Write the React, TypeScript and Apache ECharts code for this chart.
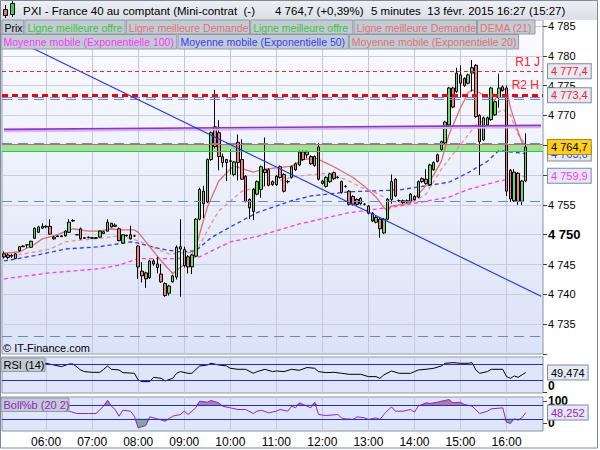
import React, { useEffect, useRef } from 'react';
import * as echarts from 'echarts';

const FONT = '"Liberation Sans", Arial, sans-serif';

// 5-minute slots from 05:05 to 16:45 (141 slots, last candle 16:25)
const categories: string[] = [];
for (let m = 5 * 60 + 5; m <= 16 * 60 + 45; m += 5) {
  categories.push(`${String(Math.floor(m / 60)).padStart(2, '0')}:${String(m % 60).padStart(2, '0')}`);
}
const hourLabels = ['06:00', '07:00', '08:00', '09:00', '10:00', '11:00', '12:00', '13:00', '14:00', '15:00', '16:00'];

const opens = [4746.8,4746.6,4746.4,4746.0,4747.3,4748.0,4748.3,4747.9,4749.4,4750.4,
4751.1,4751.3,4751.4,4749.6,4749.7,4749.8,4749.8,4750.4,4752.4,4750.0,
4751.0,4749.5,4749.6,4749.4,4749.5,4749.6,4750.2,4750.6,4751.3,4751.6,
4751.0,4748.6,4749.9,4750.0,4749.8,4748.1,4743.9,4743.6,4742.8,4745.6,
4745.1,4743.4,4741.8,4740.2,4742.1,4742.9,4748.0,4744.8,4746.3,4744.6,
4746.4,4752.6,4757.3,4755.5,4762.6,4768.1,4767.1,4763.1,4762.6,4762.3,
4760.1,4765.5,4762.6,4759.8,4755.9,4753.9,4756.8,4757.6,4760.9,4760.9,
4758.9,4758.4,4761.4,4760.1,4758.9,4759.6,4761.9,4761.7,4763.9,4763.4,
4763.1,4761.6,4764.7,4759.0,4758.1,4758.9,4760.4,4759.6,4758.9,4758.1,
4757.3,4756.4,4755.9,4755.2,4755.1,4754.8,4753.6,4752.1,4752.6,4750.3,
4752.6,4755.9,4759.3,4755.7,4755.7,4755.7,4755.6,4756.4,4756.3,4759.4,
4759.3,4758.4,4760.9,4763.4,4764.3,4765.4,4768.4,4774.6,4774.0,4776.8,
4776.2,4775.4,4777.1,4778.4,4770.0,4765.9,4768.4,4769.3,4770.1,4773.0,
4774.8,4774.6,4760.8,4755.7,4760.3,4755.6,4759.0];
const closes = [4746.3,4746.2,4746.5,4746.8,4748.0,4748.1,4748.3,4748.9,4751.1,4751.3,
4751.4,4751.4,4750.1,4749.3,4749.8,4749.7,4750.6,4752.1,4752.3,4750.0,
4749.3,4749.4,4749.5,4749.5,4749.4,4750.6,4750.5,4752.1,4751.9,4751.4,
4749.0,4750.0,4749.8,4749.3,4749.8,4744.6,4743.1,4742.6,4745.6,4745.1,
4744.5,4742.1,4739.8,4741.4,4743.1,4747.9,4747.6,4747.5,4744.6,4746.6,
4752.6,4757.6,4755.2,4762.6,4767.1,4764.8,4763.1,4762.1,4762.1,4762.4,
4762.2,4762.1,4759.3,4755.6,4754.5,4757.6,4758.9,4761.4,4760.4,4758.3,
4758.4,4759.8,4759.6,4757.3,4758.9,4761.4,4760.9,4763.9,4762.6,4763.9,
4761.9,4763.1,4759.3,4758.6,4759.6,4760.2,4759.4,4759.6,4757.1,4758.1,
4755.1,4755.1,4755.1,4756.1,4755.1,4753.6,4752.3,4752.9,4751.0,4752.6,
4755.9,4758.9,4756.5,4755.7,4755.4,4755.5,4756.8,4755.9,4758.9,4758.9,
4758.6,4761.7,4762.1,4762.3,4765.6,4768.9,4774.6,4771.4,4777.1,4775.4,
4775.0,4776.8,4778.0,4769.8,4765.6,4769.6,4769.6,4774.6,4772.3,4774.6,
4774.2,4757.3,4756.0,4760.5,4755.6,4759.0,4764.7];
const lows = [4746.0,4745.9,4746.1,4745.9,4747.2,4747.9,4747.8,4747.8,4749.3,4750.3,
4751.0,4751.1,4750.0,4749.2,4749.6,4749.6,4749.7,4750.3,4752.2,4749.9,
4749.2,4749.3,4749.4,4749.3,4749.3,4749.5,4750.1,4750.5,4751.2,4751.3,
4748.9,4748.5,4749.7,4749.2,4749.6,4742.6,4742.0,4741.1,4742.6,4744.8,
4743.5,4741.9,4739.6,4739.8,4742.0,4742.5,4739.6,4744.5,4743.5,4743.4,
4746.2,4752.4,4752.8,4755.3,4762.4,4764.5,4760.8,4761.3,4759.0,4760.1,
4759.8,4759.1,4759.2,4755.4,4752.6,4752.5,4756.6,4756.2,4758.1,4758.1,
4758.2,4758.2,4759.4,4757.1,4758.6,4759.4,4760.7,4761.5,4762.4,4762.8,
4761.7,4761.4,4759.1,4758.4,4757.9,4758.7,4759.2,4759.4,4756.9,4757.9,
4754.9,4754.9,4754.9,4755.0,4754.9,4753.4,4752.1,4751.9,4749.5,4750.1,
4752.4,4755.2,4756.3,4755.5,4755.2,4755.3,4755.4,4755.7,4756.1,4758.7,
4758.4,4758.2,4760.7,4762.1,4764.1,4765.2,4768.2,4771.2,4773.8,4773.0,
4774.8,4775.2,4774.0,4769.6,4760.0,4765.7,4768.2,4769.1,4769.9,4771.3,
4774.0,4756.5,4755.5,4755.5,4755.0,4755.0,4758.8];
const highs = [4747.2,4746.9,4746.8,4746.9,4748.1,4748.2,4748.3,4749.0,4751.2,4751.5,
4751.9,4751.6,4752.6,4749.8,4749.9,4749.9,4750.8,4752.6,4752.6,4750.1,
4751.2,4749.6,4749.7,4749.6,4749.6,4750.7,4750.6,4752.6,4752.0,4751.9,
4751.2,4750.1,4750.0,4751.5,4750.0,4748.2,4745.4,4743.8,4745.8,4745.9,
4746.3,4745.1,4742.0,4741.6,4743.3,4748.2,4752.6,4748.0,4746.6,4746.8,
4752.8,4757.9,4758.2,4762.8,4767.3,4774.3,4769.2,4763.6,4762.7,4764.3,
4762.4,4766.8,4766.0,4760.0,4756.1,4757.8,4759.1,4761.6,4766.3,4761.1,
4759.1,4760.0,4761.6,4760.3,4759.2,4761.6,4762.1,4764.1,4764.1,4764.1,
4763.3,4763.3,4765.4,4759.2,4759.8,4760.4,4760.6,4759.8,4759.1,4758.3,
4757.5,4756.6,4756.1,4756.3,4755.3,4755.0,4753.8,4753.1,4752.8,4752.8,
4756.1,4760.1,4759.5,4755.9,4755.9,4755.9,4757.0,4756.6,4759.1,4759.6,
4761.0,4761.9,4762.3,4763.6,4765.8,4769.1,4774.8,4774.8,4778.0,4778.4,
4776.4,4777.0,4779.3,4778.6,4770.2,4769.8,4769.8,4774.8,4772.5,4777.0,
4775.0,4775.0,4761.0,4761.0,4760.5,4759.2,4767.0];

// indicator lines: [slot index, value]
const demaPts = [[0,4746.9],[4,4747.1],[8,4748.4],[10,4749.3],[13,4749.8],[16,4750.5],[18,4751.0],[22,4750.6],[25,4750.6],[28,4751.0],[30,4750.8],[34,4750.8],[35,4750.4],[36,4749.6],[41,4745.6],[44,4743.5],[48,4745.5],[50,4747.9],[53,4754.6],[56,4759.0],[59,4761.0],[60,4761.5],[65,4760.5],[68,4761.0],[75,4761.5],[78,4762.6],[81,4762.9],[84,4762.0],[86,4761.4],[91,4759.6],[94,4758.1],[97,4756.3],[99,4754.6],[100,4753.9],[101,4754.8],[104,4755.1],[106,4755.4],[108,4756.8],[111,4758.9],[114,4762.3],[116,4766.8],[119,4771.3],[121,4773.8],[122,4774.3],[124,4773.8],[126,4773.0],[128,4772.6],[129,4773.8],[131,4774.6],[132,4771.3],[134,4767.3],[135,4765.5],[136,4765.1]];
const ema20Pts = [[0,4746.3],[8,4747.1],[12,4747.6],[16,4748.8],[20,4749.1],[25,4749.4],[30,4749.8],[35,4749.0],[38,4748.1],[41,4747.3],[43,4746.8],[50,4747.1],[54,4751.8],[56,4754.0],[59,4755.6],[62,4757.3],[66,4757.9],[69,4758.4],[73,4759.3],[76,4759.8],[84,4760.3],[89,4759.3],[93,4758.0],[97,4757.0],[101,4755.6],[106,4755.2],[110,4756.8],[114,4761.0],[119,4765.1],[123,4768.4],[127,4769.8],[130,4771.0],[132,4770.1],[134,4766.8],[136,4765.1]];
const ema50Pts = [[0,4745.6],[8,4746.5],[16,4747.6],[25,4748.0],[33,4748.8],[35,4748.6],[41,4747.6],[46,4747.1],[50,4747.3],[54,4749.5],[59,4751.3],[66,4753.7],[75,4755.7],[80,4756.5],[90,4757.2],[103,4757.5],[116,4758.8],[121,4760.4],[126,4762.3],[129,4764.1],[136,4763.6]];
const ema100Pts = [[0,4742.6],[12,4743.6],[25,4744.3],[30,4744.9],[35,4746.0],[45,4746.0],[51,4746.3],[59,4748.8],[66,4749.7],[77,4751.8],[90,4753.7],[103,4754.8],[116,4756.3],[121,4757.6],[129,4759.0],[136,4759.9]];

const rsiPts = [[0,70],[5,72],[10,73],[11,72.5],[13,68.3],[15,64.2],[17,70.8],[18,70.8],[20,55.8],[21,51.7],[23,50],[25,50],[26,57.5],[27,65.8],[28,57.5],[30,55.8],[31,49.2],[34,47.5],[35,30.8],[36,26.7],[38,26.7],[39,37.5],[41,35],[42,28.3],[44,35],[45,47.5],[46,51.7],[48,47.5],[49,47.5],[51,65.8],[53,68.3],[54,72.5],[56,68.3],[58,65.8],[59,60],[61,57.5],[63,57.5],[65,47.5],[66,51.7],[68,57.5],[70,51.7],[71,53.3],[73,51.7],[75,57.5],[77,55],[79,62],[81,60],[82,51.6],[84,49.2],[86,50],[88,47.5],[90,45],[93,45],[95,39.2],[97,39.2],[98,35],[99,43.3],[101,53.3],[103,47.5],[106,47.5],[107,51.7],[108,55.8],[110,57.5],[112,60],[114,65.8],[115,72.5],[117,74.2],[119,72.5],[121,72.5],[122,74.2],[123,55.8],[124,47.5],[126,51.7],[127,57.5],[130,57.5],[131,39.2],[132,35],[133,40.8],[134,37.5],[136,49.474]];
const bollPts = [[0,55],[11,89],[14,80],[17,54.5],[19,44],[22,44],[24,44],[26,77],[27,104],[28,77],[29,62],[30,32],[31,59],[33,54.5],[34,32],[35,-20.5],[37,-10],[38,29],[40,20],[42,9.5],[44,32],[46,39.5],[47,54.5],[48,39.5],[50,69.5],[51,99.5],[53,95],[54,102.5],[56,92],[57,77],[59,69.5],[61,62],[63,62],[65,44],[66,54.5],[67,59],[69,47],[71,54.5],[72,62],[74,54.5],[75,77],[76,69.5],[77,92],[78,84.5],[80,69.5],[81,95],[82,39.5],[84,35],[87,39.5],[88,24.5],[89,20],[91,17],[92,29],[94,24.5],[95,17],[97,24.5],[98,17],[99,39.5],[101,74],[102,54.5],[104,54.5],[106,62],[107,50],[108,77],[110,92],[111,89],[113,95],[114,99.5],[115,102.5],[116,107],[117,92],[119,95],[120,84.5],[122,77],[124,44],[126,54.5],[127,65],[130,69.5],[131,5],[132,-1],[133,20],[134,14],[135,24.5],[136,48.252]];

// horizontal levels
const r1Level = 4777.4;
const r2Level = 4773.4;
const lastPrice = 4764.7;
const bestDemand = 4765.1;
const bestOffer = 4764.0;
const pivotLevels = [4773.13, 4772.79, 4765.32, 4755.53, 4732.9];
const ema50Last = 4763.6;
const ema100Last = 4759.9;
const rsiLast = 49.474;
const bollLast = 48.252;
const blueTrend = [[0, 4783.62], [140, 4739.69]];
const purpleTrend = [[0, 4767.66], [140, 4768.33]];
const purpleTrendShade = [[0, 4767.35], [140, 4768.02]];

const fmtPrice = (v: number) => '4 ' + v.toFixed(1).slice(1).replace('.', ',');
const fmtInd = (v: number) => v.toFixed(3).replace('.', ',');

const tag = (text: string, color: string, bg = '#e4e9f3', border = '#7c8ca2') => ({
  show: true, position: 'end', formatter: text, color, backgroundColor: bg,
  borderColor: border, borderWidth: 1, padding: [2, 3, 1, 3], fontSize: 11,
  fontFamily: FONT, distance: 5, opacity: 1,
});
const hidden = { color: 'rgba(0,0,0,0)', width: 1, type: 'solid' };

const trendItem = (pts: number[][], color: string, width: number) => [
  { coord: [categories[pts[0][0]], pts[0][1]], lineStyle: { color, width, type: 'solid' } },
  { coord: [categories[pts[1][0]], pts[1][1]] },
];

const gridLinesSeries = (k: number) => ({
  type: 'line', xAxisIndex: k, yAxisIndex: k, data: [], silent: true,
  markLine: {
    silent: true, symbol: ['none', 'none'], z: 1, animation: false,
    label: { show: false }, emphasis: { disabled: true },
    lineStyle: { color: '#c3c9da', width: 1, type: 'solid' },
    data: hourLabels.map((h) => ({ xAxis: h })),
  },
});

const lineSeries = (pts: number[][], color: string, dashed: boolean, extra: any = {}) => ({
  type: 'line', xAxisIndex: 0, yAxisIndex: 0, data: pts, symbol: 'none', silent: true,
  connectNulls: true, z: 2,
  lineStyle: { color, width: 1.3, type: dashed ? [4, 3] : 'solid' },
  ...extra,
});

const mainBg = new echarts.graphic.LinearGradient(0, 0, 0, 1, [
  { offset: 0, color: '#fbfcff' }, { offset: 1, color: '#dbe3f7' },
]);

const legendRow1 = [
  { text: 'Prix', x: 2, w: 21.7, color: '#000' },
  { text: 'Ligne meilleure offre', x: 24.9, w: 100.2, color: '#3cc43c' },
  { text: 'Ligne meilleure Demande', x: 126.3, w: 123.2, color: '#e27272' },
  { text: 'Ligne meilleure offre', x: 250.7, w: 102.1, color: '#3cc43c' },
  { text: 'Ligne meilleure Demande', x: 354, w: 122.5, color: '#e27272' },
  { text: 'DEMA (21)', x: 477.6, w: 57.4, color: '#e27272' },
];
const legendRow2 = [
  { text: 'Moyenne mobile (Exponentielle 100)', x: 1, w: 175.8, color: '#ff33ff' },
  { text: 'Moyenne mobile (Exponentielle 50)', x: 178, w: 170.3, color: '#3a3aff' },
  { text: 'Moyenne mobile (Exponentielle 20)', x: 349.3, w: 169.3, color: '#e27272' },
];

const boxEl = (b: any, y: number, h: number, size = 10.5) => ({
  type: 'group', z: 100,
  children: [
    { type: 'rect', shape: { x: b.x, y, width: b.w, height: h }, style: { fill: '#c2cbd3', stroke: '#8e9aa6', lineWidth: 1 }, z: 100 },
    { type: 'text', x: b.x + 2.5, y: y + h / 2 + 0.5, style: { text: b.text, fill: b.color, font: `${size}px ${FONT}`, textVerticalAlign: 'middle' }, z: 101 },
  ],
});

const graphics: any[] = [
  { type: 'rect', shape: { x: 0, y: 0, width: 598, height: 20 }, style: { fill: new echarts.graphic.LinearGradient(0, 0, 0, 1, [{ offset: 0, color: '#eef0f4' }, { offset: 1, color: '#dadee5' }]) }, z: 90 },
  // candle icon
  { type: 'line', shape: { x1: 5.5, y1: 5, x2: 5.5, y2: 18 }, style: { stroke: '#000', lineWidth: 1 }, z: 91 },
  { type: 'rect', shape: { x: 3.5, y: 9.5, width: 4, height: 6 }, style: { fill: '#f06a6a', stroke: '#000', lineWidth: 1 }, z: 92 },
  { type: 'line', shape: { x1: 12.5, y1: 1, x2: 12.5, y2: 17 }, style: { stroke: '#000', lineWidth: 1 }, z: 91 },
  { type: 'rect', shape: { x: 10.5, y: 3.5, width: 4, height: 11 }, style: { fill: '#3fd23f', stroke: '#000', lineWidth: 1 }, z: 92 },
  { type: 'text', x: 23, y: 11, style: { text: 'PXI - France 40 au comptant (Mini-contrat  (-)', fill: '#000', font: `11.5px ${FONT}`, textVerticalAlign: 'middle' }, z: 95 },
  { type: 'text', x: 275, y: 11, style: { text: '4 764,7 (+0,39%)', fill: '#000', font: `11.5px ${FONT}`, textVerticalAlign: 'middle' }, z: 95 },
  { type: 'text', x: 371, y: 11, style: { text: '5 minutes  13 févr. 2015 16:27 (15:27)', fill: '#000', font: `11.5px ${FONT}`, textVerticalAlign: 'middle' }, z: 95 },
  ...legendRow1.map((b) => boxEl(b, 20, 14)),
  ...legendRow2.map((b) => boxEl(b, 34.5, 14.5)),
  { type: 'text', x: 3, y: 348, style: { text: '© IT-Finance.com', fill: '#000', font: `11px ${FONT}`, textVerticalAlign: 'middle' }, z: 100 },
  boxEl({ text: 'RSI (14)', x: 1, w: 44, color: '#000' }, 358, 13.5, 11),
  boxEl({ text: 'Boll%b (20 2)', x: 1, w: 68, color: '#9a20c8' }, 398, 13.5, 11),
  { type: 'rect', shape: { x: 0.5, y: 0.5, width: 597, height: 447.5 }, style: { fill: 'none', stroke: '#7d8a99', lineWidth: 1 }, z: 120 },
];

const option: any = {
  animation: false,
  backgroundColor: '#ffffff',
  textStyle: { fontFamily: FONT },
  grid: [
    { left: 2, top: 20, width: 541, height: 334, show: true, backgroundColor: mainBg, borderColor: '#8a96a6', borderWidth: 1 },
    { left: 2, top: 357, width: 541, height: 36, show: true, backgroundColor: '#dfe6fa', borderColor: '#8a96a6', borderWidth: 1 },
    { left: 2, top: 397, width: 541, height: 34, show: true, backgroundColor: '#dfe6fa', borderColor: '#8a96a6', borderWidth: 1 },
  ],
  xAxis: [0, 1, 2].map((k) => ({
    type: 'category', gridIndex: k, data: categories, boundaryGap: true,
    axisLine: { show: false }, axisTick: { show: false }, splitLine: { show: false },
    axisLabel: k === 2 ? {
      show: true, interval: (_i: number, v: string) => v.endsWith(':00'),
      color: '#000', fontSize: 12, fontFamily: FONT, margin: 5,
    } : { show: false },
  })),
  yAxis: [
    {
      type: 'value', gridIndex: 0, position: 'right', min: 4730, max: 4786, interval: 5,
      axisLine: { show: false },
      axisTick: { show: true, length: 4, lineStyle: { color: '#404040' } },
      splitLine: { show: true, lineStyle: { color: '#c9cede', width: 1 } },
      axisLabel: {
        show: true, margin: 5, color: '#000', fontSize: 11, fontFamily: FONT,
        formatter: (v: number) => {
          if (v === 4730 || v === 4760 || v === 4765) return '';
          const s = '4 ' + String(v).slice(1);
          return v === 4750 ? `{b|${s}}` : s;
        },
        rich: { b: { fontWeight: 'bold', fontSize: 13, fontFamily: FONT, color: '#000' } },
      },
    },
    {
      type: 'value', gridIndex: 1, position: 'right', min: -1.75, max: 88.25,
      axisLine: { show: false }, splitLine: { show: false },
      axisTick: { show: true, length: 4, customValues: [0], lineStyle: { color: '#404040' } },
      axisLabel: { show: true, customValues: [0], margin: 5, color: '#000', fontSize: 12, fontWeight: 'bold', fontFamily: FONT, verticalAlign: 'bottom' },
    },
    {
      type: 'value', gridIndex: 2, position: 'right', min: -34.6, max: 118.2,
      axisLine: { show: false }, splitLine: { show: false },
      axisTick: { show: true, length: 4, customValues: [0, 100], lineStyle: { color: '#404040' } },
      axisLabel: { show: true, customValues: [0, 100], margin: 5, color: '#000', fontSize: 12, fontWeight: 'bold', fontFamily: FONT },
    },
  ],
  graphic: graphics,
  series: [
    gridLinesSeries(0),
    gridLinesSeries(1),
    gridLinesSeries(2),
    lineSeries(ema100Pts, '#ff33ff', true, {
      markLine: {
        silent: true, symbol: ['none', 'none'], z: 5, animation: false,
        data: [{ yAxis: ema100Last, lineStyle: hidden, label: tag(fmtPrice(ema100Last), '#ff33ff') }],
      },
    }),
    lineSeries(ema50Pts, '#3333ff', true, {
      markLine: {
        silent: true, symbol: ['none', 'none'], z: 5, animation: false,
        data: [{ yAxis: ema50Last, lineStyle: hidden, label: tag(fmtPrice(ema50Last), '#3a3aff') }],
      },
    }),
    lineSeries(ema20Pts, '#ee9090', true),
    lineSeries(demaPts, '#e06c6c', false),
    {
      type: 'candlestick', name: 'Prix', xAxisIndex: 0, yAxisIndex: 0, z: 3, silent: true,
      data: opens.map((o, i) => [o, closes[i], lows[i], highs[i]]),
      barWidth: 3,
      itemStyle: { color: '#5fe05f', color0: '#f08080', borderColor: '#000', borderColor0: '#000', borderWidth: 1 },
      markArea: {
        silent: true,
        data: [[{ yAxis: bestOffer, itemStyle: { color: '#96e496' } }, { yAxis: bestDemand }]],
      },
      markLine: {
        silent: true, symbol: ['none', 'none'], z: 6, animation: false,
        label: { show: false }, emphasis: { disabled: true },
        data: [
          ...pivotLevels.map((v) => ({ yAxis: v, lineStyle: { color: '#5a8ae6', width: 1.2, type: [10, 6] }, label: { show: false } })),
          { yAxis: bestOffer, lineStyle: { color: '#3cbf3c', width: 1, type: 'solid' }, label: { show: false } },
          { yAxis: bestDemand, lineStyle: { color: '#e06060', width: 1.2, type: 'solid' }, label: { show: false } },
          trendItem(purpleTrendShade, '#d6b2f0', 2),
          trendItem(purpleTrend, '#9330cc', 1.6),
          trendItem(blueTrend, '#2233ee', 1.1),
          { yAxis: r1Level, lineStyle: { color: '#ff2020', width: 1, type: [4, 3] }, label: tag(fmtPrice(r1Level), '#ff2020') },
          { yAxis: r1Level, lineStyle: hidden, label: { show: true, position: 'insideEndTop', formatter: 'R1 J', color: '#ff2020', fontSize: 12, fontFamily: FONT, distance: 3 } },
          { yAxis: r2Level, lineStyle: { color: '#ff0000', width: 3, type: [6, 4] }, label: tag(fmtPrice(r2Level), '#ff2020') },
          { yAxis: r2Level, lineStyle: hidden, label: { show: true, position: 'insideEndTop', formatter: 'R2 H', color: '#ff2020', fontSize: 12, fontFamily: FONT, distance: 4 } },
          { yAxis: lastPrice, lineStyle: hidden, label: tag(fmtPrice(lastPrice), '#000', '#ffcf1a', '#b08a00') },
        ],
      },
    },
    {
      type: 'line', xAxisIndex: 1, yAxisIndex: 1, data: rsiPts, symbol: 'none', silent: true,
      connectNulls: true, lineStyle: { color: '#000', width: 1 },
      markLine: {
        silent: true, symbol: ['none', 'none'], z: 5, animation: false,
        data: [
          { yAxis: 70, lineStyle: { color: '#2828d8', width: 1.2, type: 'solid' }, label: { show: false } },
          { yAxis: 30, lineStyle: { color: '#2828d8', width: 1.2, type: 'solid' }, label: { show: false } },
          { yAxis: rsiLast, lineStyle: hidden, label: tag(fmtInd(rsiLast), '#000') },
        ],
      },
    },
    {
      type: 'line', xAxisIndex: 2, yAxisIndex: 2, symbol: 'none', silent: true, z: 1,
      data: bollPts.map(([i, v]) => [i, Math.max(v, 80)]),
      lineStyle: { width: 0, opacity: 0 },
      areaStyle: { origin: 80, color: '#a9809c', opacity: 1 },
    },
    {
      type: 'line', xAxisIndex: 2, yAxisIndex: 2, symbol: 'none', silent: true, z: 1,
      data: bollPts.map(([i, v]) => [i, Math.min(v, 20)]),
      lineStyle: { width: 0, opacity: 0 },
      areaStyle: { origin: 20, color: '#80a88c', opacity: 1 },
    },
    {
      type: 'line', xAxisIndex: 2, yAxisIndex: 2, data: bollPts, symbol: 'none', silent: true,
      connectNulls: true, lineStyle: { color: '#9a20c8', width: 1 },
      markLine: {
        silent: true, symbol: ['none', 'none'], z: 5, animation: false,
        data: [
          { yAxis: 80, lineStyle: { color: '#2828d8', width: 1.2, type: 'solid' }, label: { show: false } },
          { yAxis: 20, lineStyle: { color: '#2828d8', width: 1.2, type: 'solid' }, label: { show: false } },
          { yAxis: bollLast, lineStyle: hidden, label: tag(fmtInd(bollLast), '#9a20c8') },
        ],
      },
    },
  ],
};

export default function App() {
  const ref = useRef<HTMLDivElement>(null);
  useEffect(() => {
    if (!ref.current) return;
    const chart = echarts.init(ref.current, null, { renderer: 'svg' });
    chart.setOption(option);
    return () => chart.dispose();
  }, []);
  return (
    <div
      ref={ref}
      style={{ position: 'absolute', left: 0, top: 0, width: 600, height: 450, background: '#fff' }}
    />
  );
}
